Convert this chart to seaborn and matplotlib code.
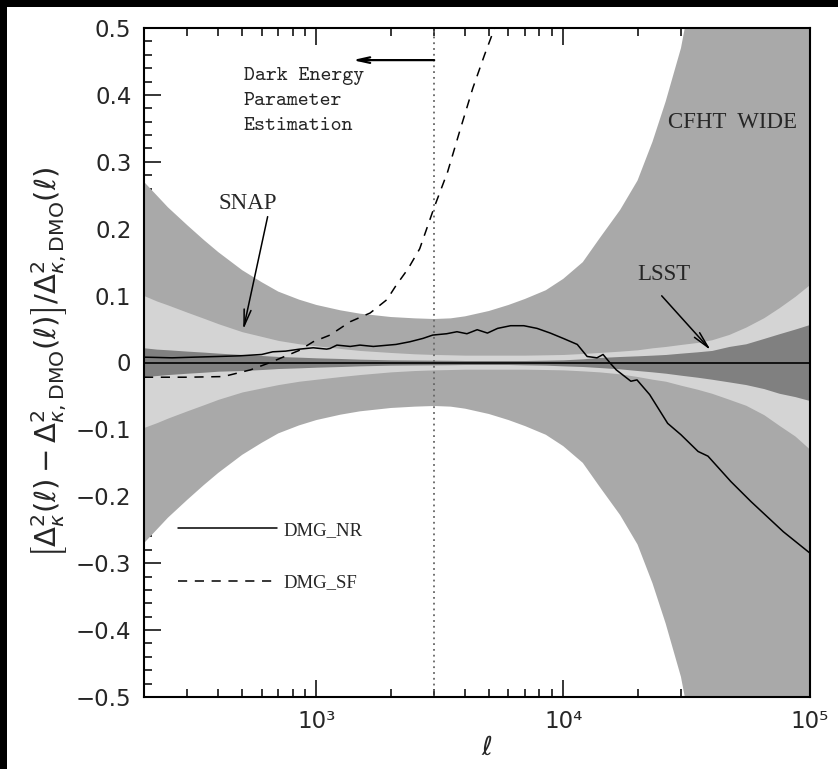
import numpy as np
import pandas as pd
import seaborn as sns
import matplotlib.pyplot as plt
from matplotlib.patches import Rectangle
from matplotlib.ticker import FixedLocator, LogLocator, MultipleLocator, FuncFormatter, NullFormatter

# multipole grid for the survey error bands
ell_band = [200, 225, 250, 300, 350, 400, 500, 600, 700, 850, 1000, 1250, 1500, 2000, 2500,
            3000, 3500, 4000, 5000, 6000, 7000, 8500, 10000, 12000, 14000, 17000, 20000, 23000,
            26000, 30000, 35000, 40000, 47000, 55000, 65000, 75000, 87000, 100000]
cfht_half = [0.27, 0.25, 0.232, 0.205, 0.183, 0.165, 0.138, 0.12, 0.106, 0.094, 0.086, 0.078,
             0.073, 0.068, 0.066, 0.065, 0.066, 0.069, 0.077, 0.086, 0.095, 0.108, 0.125, 0.15,
             0.185, 0.228, 0.272, 0.33, 0.39, 0.47, 0.6, 0.75, 0.95, 1.2, 1.5, 1.8, 2.1, 2.5]
snap_hi = [0.100, 0.092, 0.086, 0.075, 0.066, 0.058, 0.046, 0.039, 0.033, 0.028, 0.025, 0.021,
           0.018, 0.015, 0.013, 0.012, 0.0115, 0.011, 0.011, 0.011, 0.011, 0.0115, 0.012, 0.0135,
           0.015, 0.017, 0.019, 0.022, 0.024, 0.027, 0.030, 0.034, 0.042, 0.053, 0.067, 0.082,
           0.099, 0.117]
snap_lo = [-0.097, -0.090, -0.083, -0.072, -0.063, -0.055, -0.044, -0.038, -0.033, -0.028, -0.025,
           -0.021, -0.018, -0.014, -0.012, -0.011, -0.0105, -0.010, -0.010, -0.010, -0.010, -0.0105,
           -0.011, -0.0125, -0.014, -0.017, -0.021, -0.025, -0.028, -0.034, -0.040, -0.046, -0.055,
           -0.064, -0.078, -0.094, -0.11, -0.13]
lsst_hi = [0.022, 0.020, 0.019, 0.017, 0.0155, 0.014, 0.012, 0.0105, 0.009, 0.008, 0.007, 0.006,
           0.005, 0.004, 0.0037, 0.0035, 0.0033, 0.003, 0.003, 0.003, 0.003, 0.0035, 0.004, 0.0055,
           0.0075, 0.009, 0.010, 0.011, 0.012, 0.014, 0.016, 0.018, 0.024, 0.028, 0.036, 0.043,
           0.050, 0.057]
lsst_lo = [-0.021, -0.0195, -0.018, -0.016, -0.0145, -0.013, -0.012, -0.0105, -0.009, -0.008,
           -0.007, -0.006, -0.005, -0.004, -0.0037, -0.0035, -0.0033, -0.003, -0.003, -0.003,
           -0.0035, -0.004, -0.005, -0.006, -0.0075, -0.0095, -0.012, -0.014, -0.016, -0.019,
           -0.022, -0.025, -0.029, -0.033, -0.039, -0.046, -0.051, -0.057]

# DMG_NR (solid)
ell_nr = [200, 260, 320, 400, 490, 600, 665, 750, 855, 970, 1100, 1135, 1210, 1370, 1500, 1700,
          2100, 2390, 2700, 2960, 3370, 3710, 4070, 4480, 4930, 5420, 6120, 6920, 7830, 8860,
          10000, 11400, 12500, 13700, 14500, 15500, 16400, 18800, 19900, 22400, 26500, 30000,
          35200, 38600, 47800, 57700, 78000, 100000]
frac_nr = [0.008, 0.007, 0.008, 0.009, 0.010, 0.012, 0.016, 0.017, 0.020, 0.022, 0.020, 0.021, 0.026, 0.024,
           0.026, 0.024, 0.027, 0.031, 0.036, 0.041, 0.043, 0.046, 0.043, 0.049, 0.044, 0.051, 0.055,
           0.055, 0.051, 0.044, 0.036, 0.027, 0.009, 0.007, 0.012, -0.001, -0.011, -0.028, -0.026,
           -0.048, -0.091, -0.108, -0.133, -0.14, -0.178, -0.208, -0.253, -0.285]

# DMG_SF (dashed)
ell_sf = [200, 300, 420, 540, 650, 710, 850, 970, 1135, 1370, 1650, 1930, 2100, 2350, 2620,
          3000, 3400, 3800, 4300, 4800, 5270, 5600]
frac_sf = [-0.022, -0.022, -0.021, -0.011, 0.0, 0.006, 0.018, 0.031, 0.041, 0.061, 0.074, 0.094,
           0.115, 0.14, 0.17, 0.232, 0.285, 0.345, 0.41, 0.46, 0.5, 0.55]

ell_de = 3000  # dark energy parameter estimation limit

sns.set_style("ticks")
plt.rcParams['font.family'] = ['DejaVu Sans']
plt.rcParams['mathtext.fontset'] = 'dejavusans'

fig = plt.figure(figsize=(8.38, 7.69), dpi=100, facecolor='black')
fig.add_artist(Rectangle((7 / 838, 0), 1, 1 - 7 / 769, transform=fig.transFigure,
                         facecolor='white', edgecolor='none', zorder=-1))
ax = fig.add_axes([144 / 838, 72 / 769, 666 / 838, 669 / 769])
ax.set_facecolor('white')

ax.fill_between(ell_band, -np.array(cfht_half), cfht_half, color='#a9a9a9', lw=0)
ax.fill_between(ell_band, snap_lo, snap_hi, color='#d4d4d4', lw=0)
ax.fill_between(ell_band, lsst_lo, lsst_hi, color='#808080', lw=0)

ax.axhline(0, color='black', lw=1.2)
ax.axvline(ell_de, color='0.4', lw=1.3, linestyle=(0, (1, 2.2)))

nr = pd.DataFrame({'ell': ell_nr, 'frac': frac_nr})
sf = pd.DataFrame({'ell': ell_sf, 'frac': frac_sf})
sns.lineplot(data=nr, x='ell', y='frac', color='black', lw=1.1, estimator=None, sort=False,
             label='DMG_NR', ax=ax)
sns.lineplot(data=sf, x='ell', y='frac', color='black', lw=1.1, estimator=None, sort=False,
             linestyle=(0, (6, 5)), label='DMG_SF', ax=ax)

ax.set_xscale('log')
ax.set_xlim(200, 1e5)
ax.set_ylim(-0.5, 0.5)
ax.xaxis.set_major_locator(FixedLocator([1e3, 1e4, 1e5]))
ax.xaxis.set_minor_locator(LogLocator(base=10, subs=np.arange(2, 10)))
ax.xaxis.set_minor_formatter(NullFormatter())
ax.set_xticklabels(['10³', '10⁴', '10⁵'])
ax.yaxis.set_major_locator(MultipleLocator(0.1))
ax.yaxis.set_minor_locator(MultipleLocator(0.02))
ax.yaxis.set_major_formatter(FuncFormatter(
    lambda v, p: '0' if abs(v) < 1e-9 else f'{v:.1f}'.replace('-', '\u2212')))
ax.tick_params(which='both', direction='in', top=True, right=True, color='black')
ax.tick_params(which='major', length=12, width=1.1, labelsize=16.5, pad=9)
ax.tick_params(which='minor', length=6, width=1.1)
for s in ax.spines.values():
    s.set_linewidth(1.5)
    s.set_color('black')
ax.set_xlabel('')
ax.set_ylabel('')

fig.text(487 / 838, 1 - 748 / 769, r'$\ell$', fontsize=19, ha='center', va='center')
fig.text(49 / 838, 1 - 362 / 769,
         r'$\left[\Delta^2_\kappa(\ell)-\Delta^2_{\kappa,\mathrm{DMO}}(\ell)\right]/\Delta^2_{\kappa,\mathrm{DMO}}(\ell)$',
         fontsize=21, rotation=90, ha='center', va='center')

# annotations
ax.annotate('', xy=(1400, 0.452), xytext=(ell_de, 0.452),
            arrowprops=dict(arrowstyle='->,head_length=0.9,head_width=0.2', color='black',
                            lw=1.6, shrinkA=0, shrinkB=0))
ax.text(508, 0.391, 'Dark Energy\nParameter\nEstimation', family='cmtt10', fontsize=15,
        ha='left', va='center', linespacing=1.55)
ax.text(528, 0.237, 'SNAP', family='Liberation Serif', fontsize=16.5, ha='center', va='center')
ax.annotate('', xy=(505, 0.049), xytext=(634, 0.218),
            arrowprops=dict(arrowstyle='->,head_length=1.2,head_width=0.25', color='black',
                            lw=1.1, shrinkA=0, shrinkB=0))
ax.text(25600, 0.132, 'LSST', family='Liberation Serif', fontsize=16.5, ha='center', va='center')
ax.annotate('', xy=(39600, 0.0184), xytext=(25060, 0.0997),
            arrowprops=dict(arrowstyle='->,head_length=1.2,head_width=0.25', color='black',
                            lw=1.1, shrinkA=0, shrinkB=0))
ax.text(88500, 0.359, 'CFHT  WIDE', family='Liberation Serif', fontsize=16.5, ha='right', va='center')

leg = ax.legend(loc='upper left', bbox_to_anchor=(34 / 666, 0.262), frameon=False,
                handlelength=5.3, handletextpad=0.35, labelspacing=1.9, borderpad=0,
                borderaxespad=0, prop={'family': 'Liberation Serif', 'size': 13.5})

fig.savefig('out.png', dpi=100, facecolor=fig.get_facecolor())
